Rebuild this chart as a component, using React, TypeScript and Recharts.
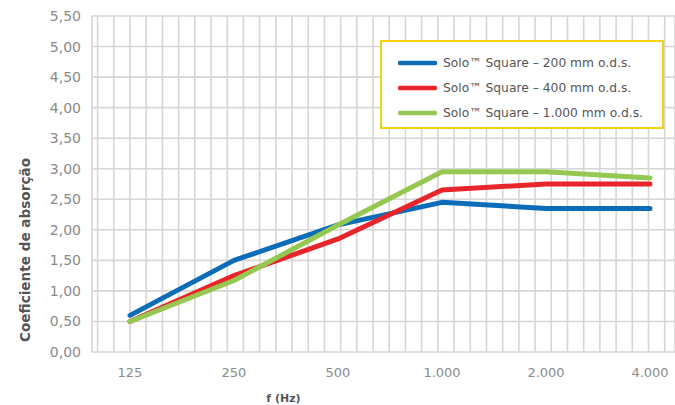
import React from 'react';
import { LineChart, Line, XAxis, YAxis, CartesianGrid, Legend, Label } from 'recharts';

// Octave-band centre frequencies (labels) and their position index on the log axis
const FREQ_LABELS = ['125', '250', '500', '1.000', '2.000', '4.000'];
const OCTAVE_INDEX = [0, 1, 2, 3, 4, 5];

// Absorption coefficients per series
const SOLO_200 = [0.6, 1.5, 2.08, 2.45, 2.35, 2.35];
const SOLO_400 = [0.5, 1.25, 1.85, 2.65, 2.75, 2.75];
const SOLO_1000 = [0.5, 1.17, 2.08, 2.95, 2.95, 2.85];

const SERIES_NAMES = [
  'Solo\u2122 Square \u2013 200 mm o.d.s.',
  'Solo\u2122 Square \u2013 400 mm o.d.s.',
  'Solo\u2122 Square \u2013 1.000 mm o.d.s.',
];
const SERIES_KEYS = ['s200', 's400', 's1000'];
const SERIES_COLORS = ['#0b6cb7', '#e8252b', '#95c850'];

const Y_TICKS = [0, 0.5, 1, 1.5, 2, 2.5, 3, 3.5, 4, 4.5, 5, 5.5];

// minor grid: 1/6.4 octave steps as in the source artwork
const GRID_STEP = 0.1558;
const GRID_TICKS = Array.from({ length: 36 }, (_, k) => (k - 2) * GRID_STEP);
const STUB_TICKS = Array.from({ length: 17 }, (_, k) => k * 2 * GRID_STEP);
const X_DOMAIN = [-0.3654, 5.2404];

const data = OCTAVE_INDEX.map((x, i) => ({
  x,
  s200: SOLO_200[i],
  s400: SOLO_400[i],
  s1000: SOLO_1000[i],
}));

const FONT = '"DejaVu Sans", sans-serif';
const GRID_COLOR = '#d6d6d6';

const EmptyTick = () => <g />;

const LegendBox = () => (
  <div
    style={{
      width: 284,
      height: 89,
      boxSizing: 'border-box',
      border: '2px solid #f4d40f',
      background: '#ffffff',
      paddingTop: 8,
      paddingLeft: 16,
      fontFamily: FONT,
    }}
  >
    {SERIES_NAMES.map((name, i) => (
      <div key={name} style={{ display: 'flex', alignItems: 'center', height: 25 }}>
        <svg width={39} height={6} style={{ display: 'block' }}>
          <line x1={2} y1={3} x2={37} y2={3} stroke={SERIES_COLORS[i]} strokeWidth={4.5} strokeLinecap="round" />
        </svg>
        <span style={{ marginLeft: 6, fontSize: 12.3, color: '#555555', whiteSpace: 'nowrap' }}>{name}</span>
      </div>
    ))}
  </div>
);

export default function App() {
  return (
    <div style={{ position: 'absolute', left: 0, top: 0 }}>
      <LineChart width={675} height={405} data={data} margin={{ top: 16, right: 0, bottom: 0, left: 0 }}>
        <CartesianGrid xAxisId="grid" stroke={GRID_COLOR} strokeWidth={1.6} />
        <XAxis
          xAxisId="grid"
          type="number"
          dataKey="x"
          domain={X_DOMAIN}
          ticks={GRID_TICKS}
          interval={0}
          allowDataOverflow
          tick={EmptyTick}
          tickLine={false}
          axisLine={false}
          height={0}
        />
        <XAxis
          xAxisId="stub"
          type="number"
          dataKey="x"
          domain={X_DOMAIN}
          ticks={STUB_TICKS}
          interval={0}
          allowDataOverflow
          tick={EmptyTick}
          tickLine={{ stroke: GRID_COLOR, strokeWidth: 1.6 }}
          tickSize={5}
          axisLine={false}
          height={0}
        />
        <XAxis
          xAxisId="main"
          type="number"
          dataKey="x"
          domain={X_DOMAIN}
          ticks={OCTAVE_INDEX}
          interval={0}
          allowDataOverflow
          tickFormatter={(v: number) => FREQ_LABELS[Math.round(v)]}
          tick={{ fill: '#8a8a8a', fontSize: 13, fontFamily: FONT }}
          tickLine={false}
          axisLine={false}
          tickSize={6}
          tickMargin={10}
          height={53}
        >
          <Label
            content={(props: any) => {
              const vb = props.viewBox || {};
              const cx = vb.x + vb.width / 2 - 100;
              const cy = vb.y + 46;
              return (
                <text x={cx} y={cy} textAnchor="middle" dominantBaseline="central" fill="#555555" fontSize={11} fontWeight="bold" fontFamily={FONT}>
                  f (Hz)
                </text>
              );
            }}
          />
        </XAxis>
        <YAxis
          type="number"
          domain={[0, 5.5]}
          ticks={Y_TICKS}
          interval={0}
          width={92}
          tickFormatter={(v: number) => v.toFixed(2).replace('.', ',')}
          tick={{ fill: '#8a8a8a', fontSize: 14, fontFamily: FONT }}
          tickLine={false}
          axisLine={false}
          tickSize={6}
          tickMargin={5}
        >
          <Label
            content={(props: any) => {
              const vb = props.viewBox || {};
              const cx = vb.x + 25;
              const cy = vb.y + vb.height / 2 + 66;
              return (
                <text
                  x={cx}
                  y={cy}
                  textAnchor="middle"
                  dominantBaseline="central"
                  transform={`rotate(-90, ${cx}, ${cy})`}
                  fill="#555555"
                  fontSize={13.6}
                  fontWeight="bold"
                  fontFamily={FONT}
                >
                  Coeficiente de absorção
                </text>
              );
            }}
          />
        </YAxis>
        <Legend
          layout="vertical"
          align="center"
          verticalAlign="middle"
          content={() => <LegendBox />}
          wrapperStyle={{ position: 'absolute', left: 380, top: 40, width: 284, height: 89 }}
        />
        {SERIES_KEYS.map((key, i) => (
          <Line
            key={key}
            xAxisId="main"
            type="linear"
            dataKey={key}
            name={SERIES_NAMES[i]}
            stroke={SERIES_COLORS[i]}
            strokeWidth={5}
            strokeLinecap="round"
            strokeLinejoin="round"
            dot={false}
            activeDot={false}
            isAnimationActive={false}
          />
        ))}
      </LineChart>
    </div>
  );
}
